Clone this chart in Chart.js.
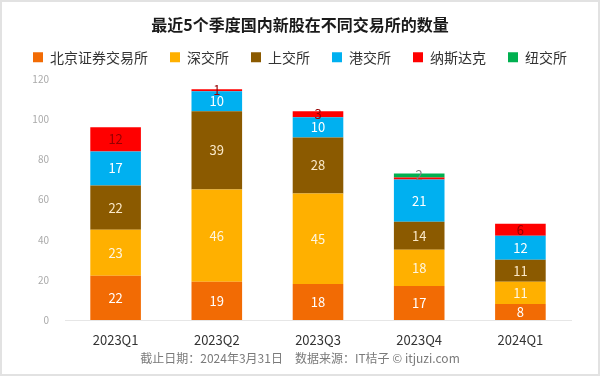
<!DOCTYPE html>
<html>
<head>
<meta charset="utf-8">
<script src="https://cdn.jsdelivr.net/npm/chart.js@4/dist/chart.umd.min.js"></script>
<style>
html,body{margin:0;padding:0;background:#fff;}
#wrap{width:600px;height:376px;position:relative;}
</style>
</head>
<body>
<div id="wrap"><canvas id="c" width="600" height="376"></canvas></div>
<script>
const categories = ['2023Q1','2023Q2','2023Q3','2023Q4','2024Q1'];
const seriesNames = ['北京证券交易所','深交所','上交所','港交所','纳斯达克','纽交所'];
const bse    = [22, 19, 18, 17, 8];
const szse   = [23, 46, 45, 18, 11];
const sse    = [22, 39, 28, 14, 11];
const hkex   = [17, 10, 10, 21, 12];
const nasdaq = [12, 1, 3, 1, 6];
const nyse   = [0, 0, 0, 2, 0];
const yTicks = [0, 20, 40, 60, 80, 100, 120];

const colors = ['#F26B04','#FFB000','#8B5A00','#00B0F0','#FF0000','#00B050'];
const labelColors = ['#ffffff','#fff6e0','#fbe9c8','#ffffff','#960000','#808080'];
const values = [bse, szse, sse, hkex, nasdaq, nyse];

const FONT = '"Noto Sans CJK SC", "Noto Sans", sans-serif';

// Segment value labels; overlapping labels are hidden (later datasets win)
const labelPlugin = {
  id: 'segLabels',
  afterDatasetsDraw(chart) {
    const ctx = chart.ctx;
    ctx.save();
    ctx.font = '13px ' + FONT;
    ctx.textAlign = 'center';
    ctx.textBaseline = 'middle';
    const kept = [];
    const n = chart.data.datasets.length;
    for (let i = n - 1; i >= 0; i--) {
      const ds = chart.data.datasets[i];
      const meta = chart.getDatasetMeta(i);
      if (meta.hidden) continue;
      meta.data.forEach((bar, j) => {
        const v = ds.data[j];
        if (!v) return;
        const cy = (bar.y + bar.base) / 2;
        const clash = kept.some(k => k.j === j && Math.abs(k.y - cy) < 10);
        if (clash) return;
        kept.push({ j, y: cy });
        ctx.fillStyle = labelColors[i];
        ctx.fillText(String(v), bar.x, cy);
      });
    }
    ctx.restore();
  }
};

const framePlugin = {
  id: 'frame',
  beforeDraw(chart) {
    const ctx = chart.ctx;
    ctx.save();
    ctx.fillStyle = '#ffffff';
    ctx.fillRect(0, 0, chart.width, chart.height);
    ctx.restore();
  },
  afterDraw(chart) {
    const ctx = chart.ctx;
    ctx.save();
    ctx.strokeStyle = '#e2e2e2';
    ctx.lineWidth = 2;
    ctx.strokeRect(1, 1, chart.width - 2, chart.height - 2);
    ctx.restore();
  }
};

new Chart(document.getElementById('c'), {
  type: 'bar',
  data: {
    labels: categories,
    datasets: seriesNames.map((name, i) => ({
      label: name,
      data: values[i],
      backgroundColor: colors[i],
      borderWidth: 0,
      barPercentage: 0.5,
      categoryPercentage: 1.0
    }))
  },
  plugins: [framePlugin, labelPlugin],
  options: {
    responsive: false,
    animation: false,
    layout: { padding: { left: 0, right: 0, top: 0, bottom: 10 } },
    plugins: {
      title: {
        display: true,
        text: '最近5个季度国内新股在不同交易所的数量',
        color: '#1a1a1a',
        font: { family: FONT, size: 16, weight: 'bold' },
        padding: { top: 15, bottom: -6 }
      },
      legend: {
        display: true,
        position: 'top',
        labels: {
          boxWidth: 10,
          boxHeight: 10,
          padding: 22,
          color: '#333333',
          font: { family: FONT, size: 14 }
        }
      },
      subtitle: {
        display: true,
        position: 'bottom',
        text: '截止日期：2024年3月31日　数据来源：IT桔子 © itjuzi.com',
        color: '#7a7a7a',
        font: { family: FONT, size: 12 },
        padding: { top: 0, bottom: 0 }
      },
      tooltip: { enabled: false }
    },
    scales: {
      x: {
        stacked: true,
        grid: { display: false },
        border: { display: true, color: '#e6e6e6' },
        ticks: { color: '#333333', font: { family: FONT, size: 13 }, padding: 4 }
      },
      xTop: {
        type: 'category',
        position: 'top',
        display: true,
        afterFit(scale) { scale.height = 5; },
        grid: { display: false },
        border: { display: false },
        ticks: { display: false }
      },
      y: {
        stacked: true,
        min: 0,
        max: 120,
        afterBuildTicks(scale) { scale.ticks = yTicks.map(v => ({ value: v })); },
        afterFit(scale) { scale.width = 65; },
        grid: { display: false },
        border: { display: false },
        ticks: { color: '#aaaaaa', font: { family: FONT, size: 10 }, padding: 8 }
      },
      yRight: {
        position: 'right',
        display: true,
        min: 0,
        max: 120,
        afterFit(scale) { scale.width = 29; },
        grid: { display: false },
        border: { display: false },
        ticks: { display: false }
      }
    }
  }
});
</script>
</body>
</html>
